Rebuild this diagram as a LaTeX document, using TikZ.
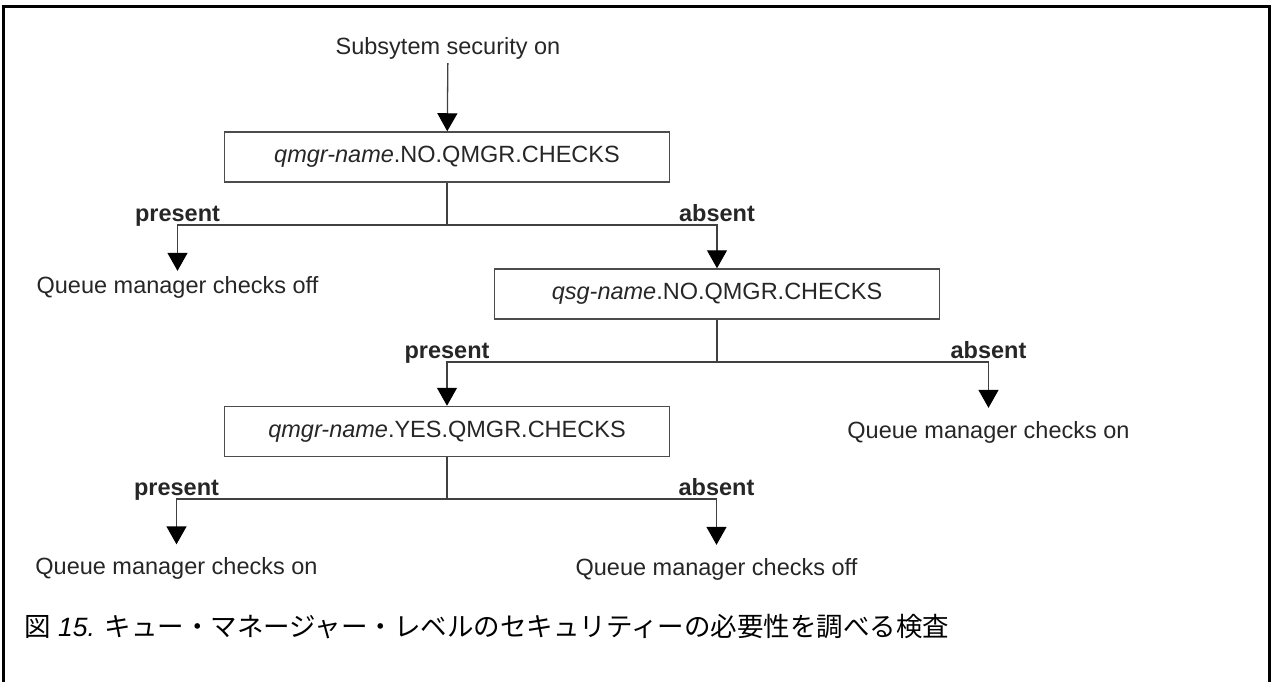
\documentclass[tikz,border=0pt]{standalone}
\usepackage{fontspec}
\setmainfont{Liberation Sans}
\newfontfamily\cjk{Noto Sans CJK JP}
\usetikzlibrary{arrows.meta, calc}

\begin{document}
\begin{tikzpicture}[
  x=1pt, y=-1pt,
  font=\fontsize{23.5}{28}\selectfont,
  check/.style={draw=black!70, line width=1.5pt, minimum width=445pt, minimum height=50pt, inner sep=0pt},
  result/.style={inner sep=2pt},
  answer/.style={font=\fontsize{23.5}{28}\selectfont\bfseries, inner sep=1pt, text height=0.72em, text depth=0.21em},
  link/.style={draw=black!75, line width=1.3pt},
  to/.style={link, -{Triangle[width=20pt, length=18pt, color=black]}, shorten >=11pt},
  every node/.style={align=center, text=black!85}]

  \useasboundingbox (0,0) rectangle (1272,682);

  % Frame, open at the bottom
  \draw[line width=3pt] (3,682) -- (3,7) -- (1269,7) -- (1269,682);

  % Position the nodes at the coordinates of the figure
  \node[inner sep=4pt] (start) at (448,48) {Subsytem security on};
  \node[check] (qmgrno) at (447,157) {\textit{qmgr-name}.NO.QMGR.CHECKS};
  \node[check] (qsgno) at (717,294) {\textit{qsg-name}.NO.QMGR.CHECKS};
  \node[check] (qmgryes) at (447,431.5) {\textit{qmgr-name}.YES.QMGR.CHECKS};

  \node[result] (off1) at (177.5,287) {Queue manager checks off};
  \node[result] (on1) at (988.5,432) {Queue manager checks on};
  \node[result] (on2) at (176.5,568.5) {Queue manager checks on};
  \node[result] (off2) at (716.5,569) {Queue manager checks off};

  \coordinate (split1) at (447,225);
  \coordinate (split2) at (717,362);
  \coordinate (split3) at (447,499);

  % Draw the arrows between the nodes and label them.
  \draw[to, shorten >=0pt] (start) -- (qmgrno);

  \draw[link] (qmgrno) -- (split1);
  \draw[to, shorten >=3pt] (split1) -| node[answer, above, pos=0.5] {present} (off1.north);
  \draw[to, shorten >=0pt] (split1) -| node[answer, above, pos=0.5] {absent} (qsgno.north);

  \draw[link] (qsgno) -- (split2);
  \draw[to, shorten >=0pt] (split2) -| node[answer, above, pos=0.5] {present} (qmgryes.north);
  \draw[to] (split2) -| node[answer, above, pos=0.5] {absent} (on1.north);

  \draw[link] (qmgryes) -- (split3);
  \draw[to] (split3) -| node[answer, above, pos=0.5] {present} (on2.north);
  \draw[to] (split3) -| node[answer, above, pos=0.5] {absent} (off2.north);

  % Caption
  \node[anchor=west, inner sep=0pt, text=black, font=\fontsize{26.5}{30}\selectfont] (caption) at (24,627)
    {{\cjk 図} \textit{15.} {\cjk キュー・マネージャー・レベルのセキュリティーの必要性を調べる検査}};

\end{tikzpicture}
\end{document}
